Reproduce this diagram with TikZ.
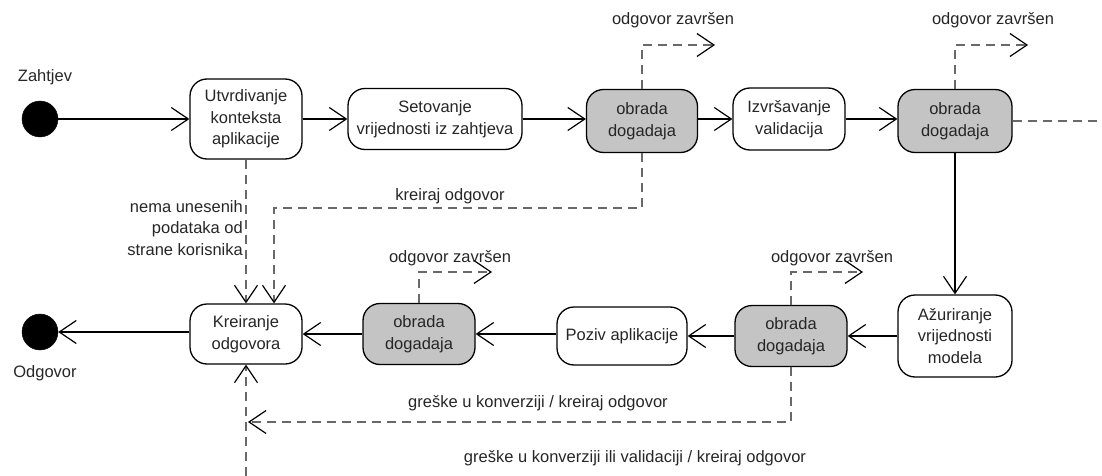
\documentclass[tikz,border=0pt]{standalone}
\usepackage{fontspec}
\setmainfont{Liberation Sans}
\usetikzlibrary{arrows.meta}
\definecolor{evgray}{RGB}{196,196,196}
\definecolor{dashgray}{RGB}{105,105,105}
\tikzset{
  state/.style={draw=black, line width=1.3pt, rounded corners=17pt, fill=white, align=center,
    inner sep=0pt, font=\fontsize{16.5}{21.5}\selectfont, text=black!85},
  evstate/.style={state, fill=evgray},
  dot/.style={circle, fill=black, draw=black, minimum size=36pt, inner sep=0pt},
  lbl/.style={font=\fontsize{16.5}{21.5}\selectfont, text=black!85, inner sep=0pt},
  flow/.style={draw=black, line width=1.2pt, -{Straight Barb[length=17pt,width=23pt,line width=1.2pt]}},
  dflow/.style={draw=dashgray, line width=1.3pt, dash pattern=on 9pt off 6pt,
    -{Straight Barb[length=17pt,width=23pt,line width=1.2pt,color=black]}},
  dline/.style={draw=dashgray, line width=1.3pt, dash pattern=on 9pt off 6pt},
}
\begin{document}
\begin{tikzpicture}[x=1pt,y=-1pt]
\useasboundingbox (0,0) rectangle (1102,476);
% top row
\node[dot] (init) at (40,119) {};
\node[lbl] (zaht) at (45,77) {Zahtjev};
\node[state, minimum width=112pt, minimum height=80pt] (utv) at (246,119) {Utvrdivanje\\konteksta\\aplikacije};
\node[state, minimum width=174pt, minimum height=61pt] (set) at (435,119) {Setovanje\\vrijednosti iz zahtjeva};
\node[evstate, minimum width=111pt, minimum height=63pt] (ob1) at (642,121) {obrada\\dogadaja};
\node[state, minimum width=112pt, minimum height=62pt] (izv) at (789,119) {Izvršavanje\\validacija};
\node[evstate, minimum width=114pt, minimum height=63pt] (ob2) at (955,121) {obrada\\dogadaja};
% bottom row
\node[state, minimum width=114pt, minimum height=82pt] (azu) at (955,336) {Ažuriranje\\vrijednosti\\modela};
\node[evstate, minimum width=112pt, minimum height=61pt] (ob4) at (791,336) {obrada\\dogadaja};
\node[state, minimum width=130pt, minimum height=58pt] (poz) at (622,336) {Poziv aplikacije};
\node[evstate, minimum width=112pt, minimum height=61pt] (ob3) at (419,334) {obrada\\dogadaja};
\node[state, minimum width=112pt, minimum height=60pt] (kre) at (246,334) {Kreiranje\\odgovora};
\node[dot] (fin) at (40,332) {};
\node[lbl] (odg) at (45,373) {Odgovor};

% coordinates
\coordinate (oz1) at (715,45);
\coordinate (oz2) at (1028,45);
\coordinate (oz3) at (492,272);
\coordinate (oz4) at (863,272);
\coordinate (exitR) at (1102,121);
\coordinate (k1) at (274,208);
\coordinate (g1) at (248,422);
\coordinate (bot) at (246,476);

% solid flows
\draw[flow] (init) -- (utv.west |- init);
\draw[flow] (utv.east |- set) -- (set.west);
\draw[flow] (set.east) -- (ob1.west |- set);
\draw[flow] (ob1.east |- izv) -- (izv.west);
\draw[flow] (izv.east) -- (ob2.west |- izv);
\draw[flow] (ob2.south) -- (azu.north);
\draw[flow] (azu.west) -- (ob4.east |- azu);
\draw[flow] (ob4.west) -- (poz.east |- ob4);
\draw[flow] (poz.west |- ob3) -- (ob3.east);
\draw[flow] (ob3.west) -- (kre.east |- ob3);
\draw[flow] (kre.west |- fin) -- (fin);

% dashed
\draw[dline] (ob2.east) -- (exitR);
\draw[dflow] (ob1.north) |- (oz1);
\draw[dflow] (ob2.north) |- (oz2);
\draw[dflow] (ob3.north) |- (oz3);
\draw[dflow] (ob4.north) |- (oz4);
\draw[dflow] (ob1.south) |- (k1) -- (k1 |- kre.north);
\draw[dflow] (utv.south) -- (kre.north);
\draw[dflow] (ob4.south) |- (g1);
\draw[dflow] (bot) -- (kre.south);

% labels
\node[lbl] (l1) at (673,20) {odgovor završen};
\node[lbl] (l2) at (993,20) {odgovor završen};
\node[lbl] (l3) at (450,258) {odgovor završen};
\node[lbl] (l4) at (832,258) {odgovor završen};
\node[lbl] (l5) at (450,196) {kreiraj odgovor};
\node[lbl, align=right, anchor=east] (l6) at (243,228) {nema unesenih\\podataka od\\strane korisnika};
\node[lbl] (l7) at (538,403) {greške u konverziji / kreiraj odgovor};
\node[lbl] (l8) at (635,458) {greške u konverziji ili validaciji / kreiraj odgovor};
\end{tikzpicture}
\end{document}
